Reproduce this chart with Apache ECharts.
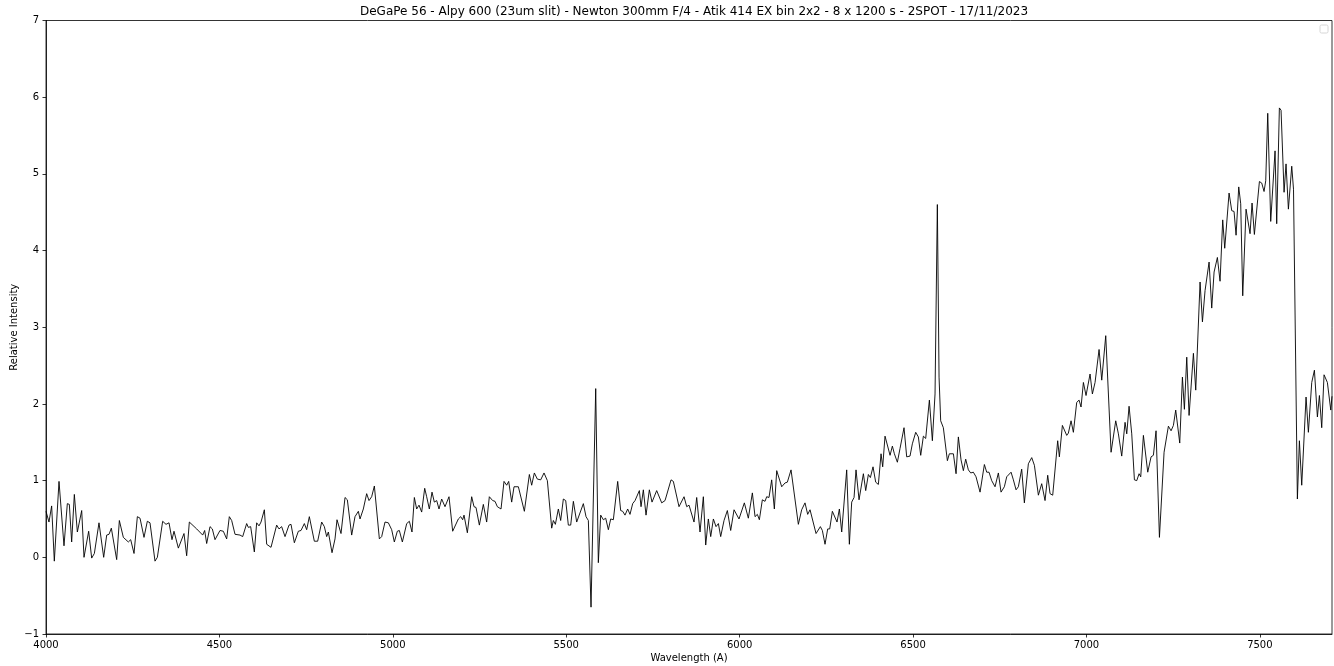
<!DOCTYPE html>
<html>
<head>
<meta charset="utf-8">
<script src="https://cdn.jsdelivr.net/npm/echarts@6/dist/echarts.min.js"></script>
<style>
html,body{margin:0;padding:0;background:#fff;}
#chart{width:1334px;height:666px;}
</style>
</head>
<body>
<div id="chart"></div>
<script>
const titleText = "DeGaPe 56 - Alpy 600 (23um slit) - Newton 300mm F/4 - Atik 414 EX bin 2x2 - 8 x 1200 s - 2SPOT - 17/11/2023";
const xTicks = [4000, 4500, 5000, 5500, 6000, 6500, 7000, 7500];
const yTicks = [-1, 0, 1, 2, 3, 4, 5, 6, 7];

const wavelength = [
4000,4003.8,4008.6,4016.3,4024,4037.5,4051.9,4061.5,4067.3,4074,4081.7,4090.4,4096.1,4102.9,4109.6,4123,4131.7,4139.4,4152.8,4166.3,4175,4181.7,4188.4,4203.8,4211.5,4223,4237.4,4244.2,4253.8,4263.4,4271.1,4282.6,4292.2,4299.9,4314.3,4321.1,4336.4,4346,4354.7,4363.3,4369.1,4381.6,4386.4,4397.9,4405.6,4413.3,4434.5,4451.8,4457.5,4463.3,4472.9,4479.6,
4487.3,4492.1,4501.7,4511.3,4520.9,4528.6,4535.4,4545,4559.4,4567.1,4578.6,4583.4,4590.1,4600.7,4607.4,4614.2,4620,4629.6,4636.3,4648.8,4665.1,4671.9,4679.5,4689.2,4700.7,4706.5,4716.1,4727.6,4735.3,4744.9,4751.6,4759.3,4773.7,4783.3,4794.9,4802.6,4809.3,4814.1,4824.7,4833.3,4839.1,4850.6,4862.2,4868.9,4881.4,4891,4900.6,4905.4,4915,4924.6,4931.4,4939,4946.8,4961.2,4967.9,4977.5,4987.1,4996.7,
5004.4,5013,5018.8,5027.5,5040,5047.7,5055.3,5062.1,5068.8,5075.5,5083.2,5091.9,5097.6,5105.3,5113,5119.7,5126.5,5133.2,5140.9,5150.5,5162,5172.6,5177.4,5188.9,5195.7,5201.4,5205.3,5214.9,5227.4,5234.1,5239.9,5249.5,5261,5270.6,5278.3,5287.9,5294.7,5301.4,5306.2,5312,5320.6,5328.3,5334.1,5342.7,5349.5,5362,5379.3,5393.7,5400.4,5408.1,5416.7,5426.4,5436,5445.6,5458.1,5462.9,5468.7,5477.3,5484,5491.7,5498.5,
5506.1,5512.9,5520.6,5530.2,5535.9,5549.4,5557.1,5563.8,5571.5,5585,5592.6,5599.4,5607.1,5613.8,5621.5,5628.2,5635.9,5648.4,5657,5662.8,5669.5,5677.2,5683.9,5691.6,5698.4,5710.9,5715.7,5722.4,5730.1,5739.7,5747.4,5760.8,5775.3,5784.9,5802.2,5808.9,5825.2,5839.7,5847.4,5854.1,5868.5,5876.2,5885.8,5895.4,5902.2,5909.8,5916.6,5924.3,5931.9,5938.7,5945.4,5955,5964.6,5974.2,5983.9,
5998.2,6013.6,6025.1,6029,6036.7,6044.4,6051.1,6056.9,6065.5,6073.2,6078,6084.7,6092.4,6100.1,6106.9,6121.3,6130.9,6137.6,6148.2,6169.3,6178.9,6188.5,6196.2,6203,6220.3,6225.1,6232.8,6238.5,6246.2,6253.9,6259.7,6267.4,6273.1,6280.8,6287.6,6294.3,6308.7,6316.4,6323.1,6329.9,6335.6,6344.3,6356.8,6363.5,6371.2,6377,6384.6,6392.3,6400,6407.7,6412.5,6419.2,6433.7,6440.4,6446.2,6454.8,6462.5,6467.3,6474,
6481.7,6491.3,6498,6507.7,6515.3,6522.1,6529.8,6536.5,6547.1,6555.7,6563.4,6570.1,6575,6579.7,6587.4,6590.3,6599,6604.7,6616.3,6624,6630.7,6638.4,6645.1,6651.8,6659.5,6666.3,6673.9,6681.6,6693.2,6705.7,6712.4,6719.1,6726.8,6736.4,6746,6753.7,6763.3,6770.1,6774.9,6782.6,6789.3,6797,6803.7,6813.3,6821,6832.5,6842.2,6849.9,6861.4,6871,6880.6,6888.3,6895,6902.7,6917.1,6921.9,6930.6,6943.1,6947.9,6955.6,6962.3,6971.9,6978.7,6984.4,6991.2,6998.8,
7003.7,7010.4,7017.1,7024.8,7029.6,7036.4,7044.1,7055.6,7071,7084.4,7092.1,7101.7,7111.3,7116.2,7122.9,7130.6,7138.3,7145,7151.7,7156.5,7164.2,7176.7,7186.3,7193,7200.7,7210.4,7223.8,7236.3,7244,7250.7,7257.4,7269,7276.7,7282.4,7289.2,7295.9,7308.4,7315.1,7327.6,7334.4,7342,7346.8,7353.6,
7361.2,7368,7377.5,7385.2,7392.9,7398.7,7411.2,7418.9,7425.6,7431.4,7439.1,7444.8,7450.6,7460.2,7465,7471.7,7477.5,7484.2,7498.7,7505.4,7512.1,7516.9,7522.7,7531.3,7536.1,7543.8,7548.6,7556.3,7561.1,7569.8,7575.5,7582.3,7591.9,7597,7608.2,7614,7620.7,7633.2,7639.9,7649.6,7657.3,7665.9,7671.7,7678.4,7685.1,7694.7,7704.4,7708
];

const intensity = [
0.60,0.58,0.46,0.67,-0.05,0.99,0.15,0.70,0.69,0.20,0.82,0.33,0.33,0.61,0.00,0.34,-0.01,0.05,0.45,0.00,0.29,0.30,0.38,-0.03,0.48,0.26,0.20,0.23,0.05,0.53,0.51,0.26,0.47,0.45,-0.05,0.00,0.47,0.43,0.45,0.23,0.34,0.12,0.10,0.31,0.02,0.46,0.37,0.29,0.35,0.18,0.40,0.37,
0.23,0.21,0.35,0.34,0.24,0.53,0.48,0.30,0.29,0.27,0.44,0.39,0.40,0.07,0.45,0.41,0.46,0.62,0.17,0.13,0.42,0.37,0.40,0.27,0.42,0.43,0.19,0.34,0.35,0.44,0.36,0.53,0.21,0.21,0.46,0.40,0.27,0.33,0.06,0.24,0.49,0.31,0.78,0.75,0.29,0.53,0.60,0.50,0.63,0.83,0.74,0.79,0.93,0.24,0.27,0.46,0.45,0.36,
0.20,0.34,0.35,0.20,0.44,0.47,0.33,0.78,0.63,0.68,0.59,0.90,0.79,0.63,0.85,0.72,0.74,0.63,0.76,0.66,0.79,0.34,0.32,0.50,0.53,0.49,0.55,0.32,0.79,0.66,0.65,0.42,0.69,0.46,0.79,0.74,0.73,0.66,0.68,0.63,0.99,0.94,0.99,0.72,0.92,0.92,0.60,1.08,0.94,1.10,1.02,1.01,1.10,1.00,0.38,0.48,0.43,0.63,0.48,0.76,0.74,
0.42,0.42,0.73,0.46,0.47,0.70,0.53,0.48,-0.65,2.20,-0.07,0.55,0.49,0.51,0.36,0.50,0.49,0.99,0.61,0.60,0.55,0.63,0.56,0.70,0.74,0.87,0.66,0.88,0.55,0.88,0.72,0.87,0.71,0.74,1.01,0.99,0.66,0.79,0.66,0.68,0.46,0.78,0.33,0.79,0.16,0.50,0.27,0.50,0.40,0.44,0.27,0.48,0.61,0.35,0.62,
0.50,0.71,0.51,0.50,0.84,0.53,0.56,0.49,0.75,0.73,0.79,0.78,1.01,0.63,1.13,0.92,0.97,0.98,1.14,0.43,0.62,0.71,0.56,0.62,0.31,0.30,0.40,0.35,0.17,0.37,0.37,0.60,0.60,0.46,0.63,0.33,1.14,0.17,0.72,0.78,1.14,0.75,1.09,0.87,1.08,1.04,1.18,0.98,0.95,1.35,1.18,1.58,1.33,1.45,1.35,1.24,1.42,1.42,1.69,
1.31,1.32,1.48,1.63,1.57,1.33,1.58,1.55,2.05,1.52,2.13,4.60,2.35,1.78,1.69,1.68,1.26,1.35,1.35,1.09,1.57,1.27,1.13,1.28,1.14,1.10,1.11,1.05,0.85,1.21,1.11,1.11,1.00,0.92,1.10,0.85,0.92,1.05,1.04,1.11,1.01,0.88,0.92,1.15,0.71,1.22,1.30,1.20,0.81,0.96,0.74,1.07,0.83,0.81,1.52,1.31,1.72,1.59,1.62,1.78,1.63,2.02,2.05,1.96,2.28,2.11,
2.10,2.39,2.13,2.28,2.27,2.71,2.31,2.89,1.37,1.78,1.61,1.32,1.76,1.61,1.97,1.61,1.01,1.00,1.09,1.05,1.59,1.11,1.31,1.33,1.65,0.26,1.37,1.71,1.65,1.72,1.92,1.49,2.35,1.93,2.61,1.85,2.66,2.18,3.59,3.07,3.48,3.47,3.85,
3.25,3.72,3.91,3.60,4.40,4.03,4.75,4.52,4.51,4.20,4.83,4.61,3.41,4.54,4.56,4.22,4.62,4.21,4.90,4.88,4.77,4.91,5.79,4.38,4.39,5.30,4.35,5.86,5.83,4.76,5.13,4.54,5.10,4.80,0.76,1.52,0.94,2.09,1.63,2.28,2.44,1.83,2.11,1.69,2.38,2.28,1.92,2.10
];

const chart = echarts.init(document.getElementById('chart'), null, {renderer: 'canvas'});
const seriesData = wavelength.map((w, i) => [w, intensity[i]]);
const FONT = 'DejaVu Sans';

chart.setOption({
  animation: false,
  backgroundColor: '#ffffff',
  title: {
    text: titleText,
    left: 689,
    textAlign: 'center',
    top: 1,
    textStyle: {fontFamily: FONT, fontSize: 12, fontWeight: 'normal', color: '#000'}
  },
  grid: {
    left: 46, right: 2, top: 20.5, bottom: 32,
    containLabel: false,
    outerBoundsMode: 'none',
    show: true, borderColor: '#000', borderWidth: 0.8, backgroundColor: 'transparent'
  },
  xAxis: {
    type: 'value',
    min: xTicks[0],
    max: 7708,
    interval: 500,
    name: 'Wavelength (A)',
    nameLocation: 'middle',
    nameGap: 19,
    nameMoveOverlap: false,
    nameTextStyle: {fontFamily: FONT, fontSize: 10, color: '#000'},
    axisLine: {show: true, onZero: false, lineStyle: {color: '#000', width: 0.8}},
    axisTick: {show: true, length: 3.5, lineStyle: {color: '#000', width: 0.8}},
    axisLabel: {show: true, margin: 6, fontFamily: FONT, fontSize: 10, color: '#000', showMaxLabel: false,
      formatter: v => xTicks.includes(v) ? String(v) : ''},
    splitLine: {show: false}
  },
  yAxis: {
    type: 'value',
    min: yTicks[0],
    max: yTicks[yTicks.length - 1],
    interval: 1,
    name: 'Relative Intensity',
    nameLocation: 'middle',
    nameGap: 27,
    nameMoveOverlap: false,
    nameRotate: 90,
    nameTextStyle: {fontFamily: FONT, fontSize: 10, color: '#000'},
    axisLine: {show: true, onZero: false, lineStyle: {color: '#000', width: 0.8}},
    axisTick: {show: true, length: 3.5, lineStyle: {color: '#000', width: 0.8}},
    axisLabel: {show: true, margin: 7, fontFamily: FONT, fontSize: 10, color: '#000',
      formatter: v => (v < 0 ? '\u2212' + Math.abs(v) : String(v))},
    splitLine: {show: false}
  },
  graphic: [{
    type: 'rect',
    shape: {x: 1320, y: 25, width: 8, height: 8, r: 1.5},
    style: {fill: '#ffffff', stroke: '#d6d6d6', lineWidth: 1}
  }],
  series: [{
    type: 'line',
    data: seriesData,
    showSymbol: false,
    symbol: 'none',
    lineStyle: {color: '#000', width: 0.9},
    itemStyle: {color: '#000'}
  }]
});
</script>
</body>
</html>
